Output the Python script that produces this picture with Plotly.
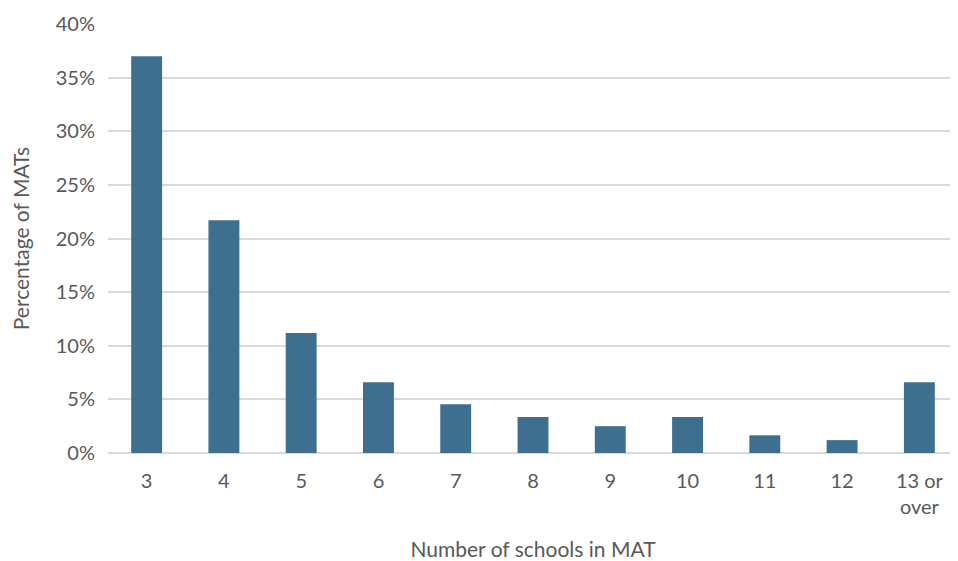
import plotly.graph_objects as go

categories = ["3", "4", "5", "6", "7", "8", "9", "10", "11", "12", "13 or<br>over"]
values = [0.370, 0.217, 0.112, 0.066, 0.0455, 0.0335, 0.025, 0.0335, 0.0165, 0.012, 0.066]
y_ticks = [0, 0.05, 0.10, 0.15, 0.20, 0.25, 0.30, 0.35, 0.40]

fig = go.Figure(go.Bar(x=categories, y=values, marker_color="#3F6F8F",
                       marker_line_width=0, width=0.4))

font_family = "Lato, 'Open Sans', sans-serif"
fig.update_layout(
    width=950, height=553,
    margin=dict(l=100, r=0, t=16, b=108),
    plot_bgcolor="white", paper_bgcolor="white",
    font=dict(family=font_family, color="#595959", size=20),
    showlegend=False,
    xaxis=dict(title=dict(text="Number of schools in MAT", font=dict(size=21), standoff=26),
               tickfont=dict(size=20), showgrid=False, showline=False, ticks="",
               ticklabelstandoff=14),
    yaxis=dict(title=dict(text="Percentage of MATs", font=dict(size=21), standoff=22),
               range=[0, 0.40], tickvals=y_ticks, tickformat=".0%",
               gridcolor="#D9D9D9", gridwidth=1.5, zeroline=True, zerolinecolor="#D9D9D9",
               zerolinewidth=1.5, ticks="", tickfont=dict(size=20), ticklabelstandoff=12),
)

fig.write_html("out.html")
